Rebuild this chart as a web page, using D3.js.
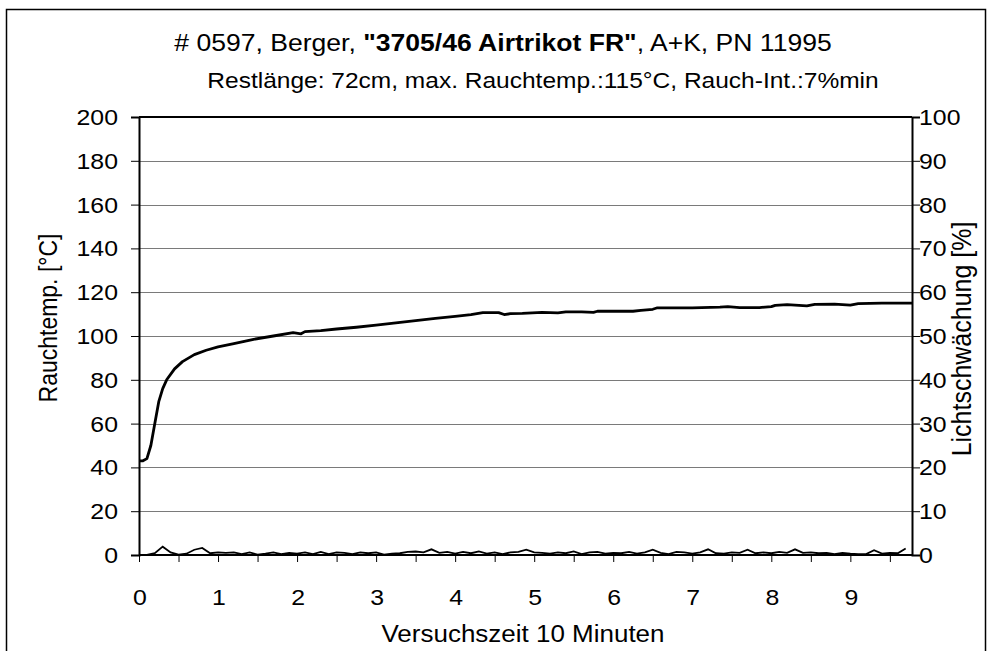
<!DOCTYPE html>
<html lang="de">
<head>
<meta charset="UTF-8">
<title>0597 Berger Airtrikot FR</title>
<style>
  body { margin: 0; background: #fff; }
  svg { display: block; font-family: "Liberation Sans", Arial, sans-serif; }
  .grid { stroke: #7a7a7a; stroke-width: 1; }
  .tick-label { font-size: 22px; fill: #000; }
</style>
</head>
<body>
<svg id="chart" width="993" height="651"></svg>
<script src="https://d3js.org/d3.v7.min.js"></script>
<script>
// Rauchtemperatur [°C], Zeitpunkte in Einheiten der x-Achse
const tempTime = [0, 0.05, 0.1, 0.15, 0.2, 0.25, 0.3, 0.35, 0.45, 0.55, 0.7, 0.85, 1.0, 1.2, 1.45, 1.7,
  1.95, 2.05, 2.1, 2.3, 2.5, 2.75, 3.0, 3.25, 3.5, 3.75, 4.0, 4.2, 4.35, 4.55, 4.62, 4.7, 4.85,
  5.1, 5.3, 5.4, 5.6, 5.75, 5.8, 6.1, 6.25, 6.35, 6.5, 6.55, 7.0, 7.35, 7.45, 7.6, 7.85, 8.0,
  8.05, 8.2, 8.45, 8.55, 8.8, 9.0, 9.1, 9.4, 9.78];
const tempValues = [43, 43, 44, 50, 60, 70, 76, 80, 85, 88.3, 91.5, 93.5, 95, 96.5, 98.5, 100,
  101.5, 101, 102, 102.5, 103.2, 104, 105, 106, 107, 108, 109, 109.8, 110.7, 110.7, 109.8, 110.2, 110.3,
  110.8, 110.6, 111, 111, 110.8, 111.3, 111.4, 111.3, 111.7, 112.2, 112.8, 112.8, 113.2, 113.4, 113, 113, 113.4,
  114, 114.3, 113.8, 114.4, 114.6, 114.1, 114.8, 115, 115];

// Lichtschwächung [%], alle 0.1 Einheiten ab 0
const lightValues = [0, 0, 0.4, 1.9, 0.6, 0.1, 0.3, 1.2, 1.6, 0.4,
  0.6, 0.5, 0.6, 0.2, 0.6, 0.1, 0.3, 0.6, 0.2, 0.5,
  0.3, 0.6, 0.2, 0.7, 0.2, 0.6, 0.5, 0.2, 0.6, 0.4,
  0.6, 0.1, 0.3, 0.4, 0.7, 0.8, 0.6, 1.3, 0.5, 0.7,
  0.3, 0.7, 0.4, 0.8, 0.3, 0.6, 0.2, 0.6, 0.7, 1.2,
  0.6, 0.5, 0.3, 0.6, 0.4, 0.8, 0.2, 0.6, 0.7, 0.3,
  0.5, 0.4, 0.7, 0.3, 0.6, 1.2, 0.5, 0.2, 0.7, 0.6,
  0.3, 0.6, 1.3, 0.4, 0.3, 0.6, 0.5, 1.2, 0.4, 0.6,
  0.4, 0.7, 0.5, 1.3, 0.5, 0.6, 0.4, 0.5, 0.2, 0.5,
  0.3, 0.2, 0.2, 1.1, 0.3, 0.5, 0.4, 1.5];
const lightStep = 0.1;

const xTickLabels = [0, 1, 2, 3, 4, 5, 6, 7, 8, 9];
const xMinorTicks = [0, 0.5, 1, 1.5, 2, 2.5, 3, 3.5, 4, 4.5, 5, 5.5, 6, 6.5, 7, 7.5, 8, 8.5, 9, 9.5];
const leftTicks = [0, 20, 40, 60, 80, 100, 120, 140, 160, 180, 200];
const rightTicks = [0, 10, 20, 30, 40, 50, 60, 70, 80, 90, 100];

const svg = d3.select('#chart');
const plotLeft = 139, plotRight = 912, plotTop = 117, plotBottom = 555;
const stretch = 1.13; // the original scan is a bit wider than tall

const x = d3.scaleLinear().domain([0, 9.78]).range([plotLeft, plotRight]);
const yL = d3.scaleLinear().domain([0, 200]).range([plotBottom, plotTop]);
const yR = d3.scaleLinear().domain([0, 100]).range([plotBottom, plotTop]);

function place(px, py, rot) {
  return `translate(${px},${py}) scale(${stretch},1)` + (rot ? ` rotate(${rot})` : '');
}

// outer frame
svg.append('rect')
  .attr('x', 6.5).attr('y', 9.5)
  .attr('width', 979).attr('height', 700)
  .attr('fill', 'none').attr('stroke', '#000').attr('stroke-width', 1.5);

// title
const title = svg.append('text')
  .attr('transform', place(503, 51))
  .attr('text-anchor', 'middle')
  .style('font-size', '23.5px');
title.append('tspan').text('# 0597, Berger, ');
title.append('tspan').style('font-weight', 'bold').text('"3705/46 Airtrikot FR"');
title.append('tspan').text(', A+K, PN 11995');

svg.append('text')
  .attr('transform', place(543, 88))
  .attr('text-anchor', 'middle')
  .style('font-size', '21.7px')
  .text('Restlänge: 72cm, max. Rauchtemp.:115°C, Rauch-Int.:7%min');

// gridlines
svg.append('g').selectAll('line')
  .data(leftTicks.filter(d => d > 0 && d < 200))
  .join('line')
  .attr('class', 'grid')
  .attr('x1', plotLeft).attr('x2', plotRight)
  .attr('y1', d => Math.round(yL(d)) + 0.5).attr('y2', d => Math.round(yL(d)) + 0.5);

// left axis
const gL = svg.append('g').attr('transform', `translate(${plotLeft},0)`)
  .call(d3.axisLeft(yL).tickValues(leftTicks).tickSize(8).tickFormat(''));
gL.select('.domain').attr('stroke-width', 2);

svg.append('g').selectAll('text')
  .data(leftTicks)
  .join('text')
  .attr('class', 'tick-label')
  .attr('text-anchor', 'end')
  .attr('transform', d => place(118, yL(d) + 8))
  .text(d => d);

// right axis
const gR = svg.append('g').attr('transform', `translate(${plotRight},0)`)
  .call(d3.axisRight(yR).tickValues(rightTicks).tickSize(8).tickFormat(''));
gR.select('.domain').attr('stroke-width', 2);

svg.append('g').selectAll('text')
  .data(rightTicks)
  .join('text')
  .attr('class', 'tick-label')
  .attr('transform', d => place(919, yR(d) + 8))
  .text(d => d);

// top line
svg.append('line')
  .attr('x1', plotLeft).attr('x2', plotRight)
  .attr('y1', plotTop).attr('y2', plotTop)
  .attr('stroke', '#000').attr('stroke-width', 2);

// bottom axis
const gB = svg.append('g').attr('transform', `translate(0,${plotBottom})`)
  .call(d3.axisBottom(x).tickValues(xMinorTicks).tickSize(7).tickFormat(''));
gB.select('.domain').attr('stroke-width', 2).attr('d', `M${plotLeft},0H${plotRight}`);

svg.append('g').selectAll('text')
  .data(xTickLabels)
  .join('text')
  .attr('class', 'tick-label')
  .attr('text-anchor', 'middle')
  .attr('transform', d => place(x(d) + 1, 605))
  .text(d => d);

// axis titles
svg.append('text')
  .attr('transform', place(57, 318, -90))
  .attr('text-anchor', 'middle')
  .style('font-size', '23px')
  .text('Rauchtemp. [°C]');

svg.append('text')
  .attr('transform', place(971, 339, -90))
  .attr('text-anchor', 'middle')
  .style('font-size', '25px')
  .text('Lichtschwächung [%]');

svg.append('text')
  .attr('transform', place(523, 642))
  .attr('text-anchor', 'middle')
  .style('font-size', '23px')
  .text('Versuchszeit 10 Minuten');

// series
const tempLine = d3.line().x(d => x(d[0])).y(d => yL(d[1]));
svg.append('path')
  .datum(tempTime.map((t, i) => [t, tempValues[i]]))
  .attr('fill', 'none').attr('stroke', '#000').attr('stroke-width', 2.8)
  .attr('stroke-linejoin', 'round')
  .attr('d', tempLine);

const lightLine = d3.line().x(d => x(d[0])).y(d => yR(d[1]));
svg.append('path')
  .datum(lightValues.map((v, i) => [i * lightStep, v]))
  .attr('fill', 'none').attr('stroke', '#000').attr('stroke-width', 1.8)
  .attr('d', lightLine);
</script>
</body>
</html>
